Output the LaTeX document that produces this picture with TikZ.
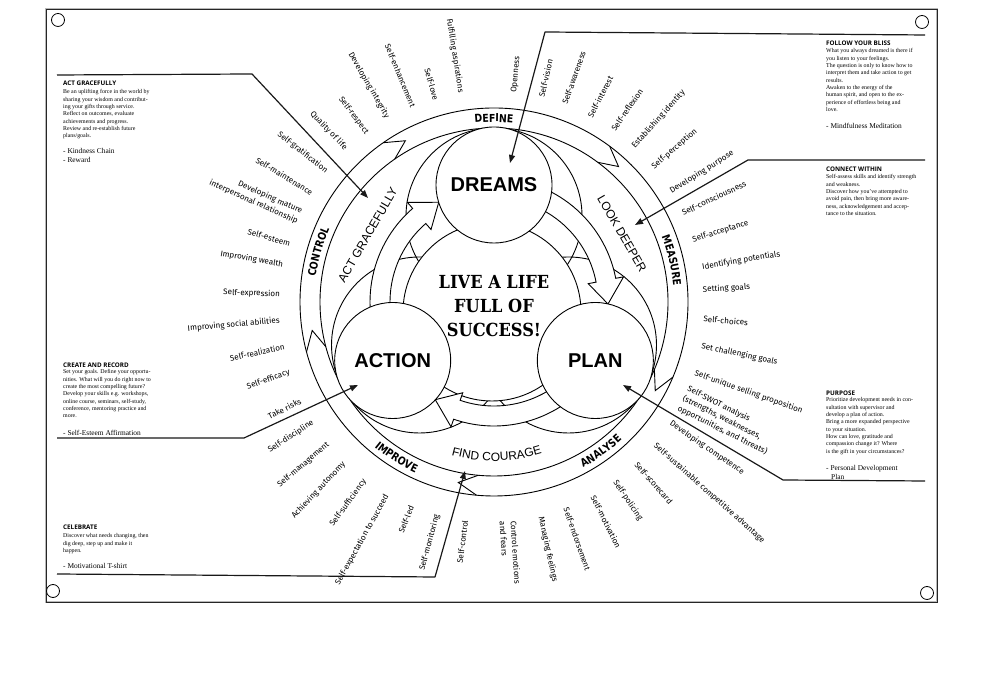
\documentclass[tikz,border=0pt]{standalone}
\usepackage{fontspec}
\setmainfont{Liberation Serif}
\newfontfamily\labfont{Fira Sans}
\newfontfamily\titfont{Open Sans}
\newfontfamily\bigsans{Liberation Sans}
\newfontfamily\ringfont[FakeStretch=0.85]{DejaVu Sans}
\newfontfamily\slabfont[FakeStretch=0.9]{DejaVu Serif}
\usetikzlibrary{arrows.meta,decorations.text}
\newcommand{\ringf}{\ringfont\bfseries\fontsize{11}{12}\selectfont}
\newcommand{\innf}{\bigsans\fontsize{12}{14}\selectfont}
\tikzset{
 lab/.style={font=\labfont\fontsize{8.1}{10}\selectfont, inner sep=0pt},
 lab2/.style={font=\labfont\fontsize{8.1}{11}\selectfont, inner sep=0pt},
 boxtitle/.style={font=\titfont\bfseries\fontsize{6.3}{7}\selectfont, inner sep=0pt, anchor=west},
 boxbody/.style={font=\fontsize{5.9}{7.35}\selectfont, inner sep=0pt, anchor=north west, align=left},
 boxbul/.style={font=\fontsize{7.4}{9}\selectfont, inner sep=0pt, anchor=north west, align=left},
 conn/.style={line width=1.2pt, black!90, line join=round, -{Triangle[length=8pt,width=6pt]}},
 ln/.style={line width=0.9pt},
 circ/.style={draw, circle, line width=0.9pt, fill=white, minimum size=116pt, inner sep=0pt},
 big/.style={font=\bigsans\bfseries\fontsize{20}{24}\selectfont},
 innerlab/.style={font=\innf, inner sep=0pt},
}
\begin{document}
\begin{tikzpicture}[x=1pt,y=1pt]
\useasboundingbox (0,0) rectangle (1000,700);
% banner
\draw[line width=2.6pt, black!28] (46,98) rectangle (937,691);
\draw[line width=0.9pt, black!85] (46,98) rectangle (937,691);
\foreach \p in {(58,680),(922,678),(53,109),(927,107)}
  \draw[line width=0.8pt, fill=white] \p circle[radius=6.5];

\begin{scope}[shift={(494,398)}]
% outer ring
\draw[ln] (0,0) circle[radius=194];
\draw[ln] (0,0) circle[radius=174];
\foreach \c in {124.8,53.4,-22.8,-95.2,-165.1}
  \draw[ln, line join=miter] (\c:194) -- (\c-6:184) -- (\c:174);
% petals and central circle
\foreach \ang in {90,-30,210} \draw[ln] (\ang:86) circle[radius=88];
\filldraw[ln, fill=white] (-2,-10) circle[radius=89];
% curved arrows
\foreach \ang/\b/\tp in {90/11/-1, -30/-109/-121, 210/131/119}
  \filldraw[ln, fill=white, line join=miter] (\ang:104) arc[start angle=\ang, end angle=\b, radius=104]
    -- (\b:96) -- (\tp:114) -- (\b:132) -- (\b:124) arc[start angle=\b, end angle=\ang, radius=124] -- cycle;
% three circles
\node[circ, big] (dreams) at (90:117) {DREAMS};
\node[circ, big] (plan) at (-30:117) {PLAN};
\node[circ, big] (action) at (210:117) {ACTION};
\node[font=\slabfont\bfseries\fontsize{18}{24}\selectfont, align=center, inner sep=0pt] (live) at (0,-4) {LIVE A LIFE\\FULL OF\\SUCCESS!};
% ring labels
\path[decorate, decoration={text along path, text align=center, text={|\ringf|DEFINE}}]
  (120:180) arc[start angle=120, end angle=60, radius=180];
\path[decorate, decoration={text along path, text align=center, text={|\ringf|CONTROL}}]
  (194:180) arc[start angle=194, end angle=134, radius=180];
\path[decorate, decoration={text along path, text align=center, text={|\ringf|MEASURE}}]
  (43.3:180) arc[start angle=43.3, end angle=-16.7, radius=180];
\path[decorate, decoration={text along path, text align=center, text={|\ringf|ANALYSE}}]
  (-84.4:188) arc[start angle=-84.4, end angle=-24.4, radius=188];
\path[decorate, decoration={text along path, text align=center, text={|\ringf|IMPROVE}}]
  (207.9:188) arc[start angle=207.9, end angle=267.9, radius=188];
\path[decorate, decoration={text along path, text align=center, text={|\innf|FIND COURAGE}}]
  (241:159) arc[start angle=241, end angle=301, radius=159];
\node[innerlab, rotate=60] (actg) at (152:143) {ACT GRACEFULLY};
\node[innerlab, rotate=-60] (lookd) at (28:145) {LOOK DEEPER};
% radial labels, right half
\foreach \ang/\rr/\tx [count=\i] in {84.5/210/Openness, 77/210/Self-vision, 70.4/210/Self-awareness,
  62.6/208/Self-interest, 55.3/209/Self-reflexion, 48/208/Establishing identity, 40.3/208/Self-perception,
  32/208/Developing purpose, 25.3/208/Self-consciousness, 17.3/208/Self-acceptance,
  9.5/211/Identifying potentials, 3.3/209/Setting goals, -4.6/210/Self-choices,
  -12/212/Set challenging goals, -19.5/213/Self-unique selling proposition,
  -34.4/214/Developing competence, -41.6/215/Self-sustainable competitive advantage,
  -48.6/215/Self-scorecard, -56/216/Self-policing, -63/218/Self-motivation,
  -70.7/218/Self-endorsement, -77.7/220/Managing feelings}
  \node[lab, anchor=west, rotate=\ang] (R\i) at (\ang:\rr) {\tx};
\node[lab2, anchor=west, rotate=-26.7, align=left] (swot) at (-27:212)
  {Self-SWOT analysis\\(strengths, weaknesses,\\opportunities, and threats)};
\node[lab2, anchor=west, rotate=-86.3, align=left] (ctrlemo) at (-86.3:219.5)
  {Control emotions\\and fears};
% radial labels, left half
\foreach \ang/\rr/\tx [count=\i] in {262.5/220/Self-control, 255/220/Self-monitoring, 248/220/Self-led,
  241/221/Self-expectation to succeed, 234/220/Self-sufficiency, 227/220/Achieving autonomy,
  220.5/218/Self-management, 213.5/217/Self-discipline, 207/217/Take risks, 199/216/Self-efficacy,
  192/214/Self-realization, 185/215/Improving social abilities, 178/214/Self-expression,
  170/214/Improving wealth, 164/212/Self-esteem, 149/212/Self-maintenance,
  142/212/Self-gratification, 134/213/Quality of life, 127/211/Self-respect,
  120/213/Developing integrity, 112.5/211/Self-enhancement, 106/210/Self-love,
  99/212/Fulfilling aspirations}
  \node[lab, anchor=east, rotate=\ang-180] (L\i) at (\ang:\rr) {\tx};
\node[lab2, anchor=east, rotate=-24, align=right] (devmat) at (156.3:212)
  {Developing mature\\interpersonal relationship};
\end{scope}

% ACT GRACEFULLY box
\node[boxtitle] (agT) at (63,617) {ACT GRACEFULLY};
\node[boxbody] (agB) at (63,610.5) {Be an uplifting force in the world by\\sharing your wisdom and contribut-\\ing your gifts through service.\\Reflect on outcomes, evaluate\\achievements and progress.\\Review and re-establish future\\plans/goals.};
\node[boxbul] (agL) at (63,552.2) {- Kindness Chain\\- Reward};
\coordinate (ag0) at (57,625);
\coordinate (ag1) at (252,626);
\coordinate (ag2) at (368,502);
\draw[conn] (ag0) -- (ag1) -- (ag2);

% CREATE AND RECORD box
\node[boxtitle] (crT) at (63,335) {CREATE AND RECORD};
\node[boxbody] (crB) at (63,330.5) {Set your goals. Define your opportu-\\nities. What will you do right now to\\create the most compelling future?\\Develop your skills e.g. workshops,\\online course, seminars, self-study,\\conference, mentoring practice and\\more.};
\node[boxbul] (crL) at (63,270.2) {- Self-Esteem Affirmation};
\coordinate (cr0) at (57,262);
\coordinate (cr1) at (244,262);
\coordinate (cr2) at (358,315);
\draw[conn] (cr0) -- (cr1) -- (cr2);

% CELEBRATE box
\node[boxtitle] (ceT) at (63,173) {CELEBRATE};
\node[boxbody] (ceB) at (63,166.5) {Discover what needs changing, then\\dig deep, step up and make it\\happen.};
\node[boxbul] (ceL) at (63,137.2) {- Motivational T-shirt};
\coordinate (ce0) at (57,126);
\coordinate (ce1) at (435,123);
\coordinate (ce2) at (465,229);
\draw[conn] (ce0) -- (ce1) -- (ce2);

% FOLLOW YOUR BLISS box
\node[boxtitle] (fbT) at (826,657) {FOLLOW YOUR BLISS};
\node[boxbody] (fbB) at (826,651.5) {What you always dreamed is there if\\you listen to your feelings.\\The question is only to know how to\\interpret them and take action to get\\results.\\Awaken to the energy of the\\human spirit, and open to the ex-\\perience of effortless being and\\love.};
\node[boxbul] (fbL) at (826,577.2) {- Mindfulness Meditation};
\coordinate (fb0) at (925,665);
\coordinate (fb1) at (545,668);
\coordinate (fb2) at (510,537);
\draw[conn] (fb0) -- (fb1) -- (fb2);

% CONNECT WITHIN box
\node[boxtitle] (cwT) at (826,531) {CONNECT WITHIN};
\node[boxbody] (cwB) at (826,525.5) {Self-assess skills and identify strength\\and weakness.\\Discover how you've attempted to\\avoid pain, then bring more aware-\\ness, acknowledgement and accep-\\tance to the situation.};
\coordinate (cw0) at (925,540);
\coordinate (cw1) at (748,540);
\coordinate (cw2) at (635,475);
\draw[conn] (cw0) -- (cw1) -- (cw2);

% PURPOSE box
\node[boxtitle] (puT) at (826,307) {PURPOSE};
\node[boxbody] (puB) at (826,302.5) {Prioritize development needs in con-\\sultation with supervisor and\\develop a plan of action.\\Bring a more expanded perspective\\to your situation.\\How can love, gratitude and\\compassion change it? Where\\is the gift in your circumstances?};
\node[boxbul] (puL) at (826,235.2) {- Personal Development\\\hspace*{5pt}Plan};
\coordinate (pu0) at (925,219);
\coordinate (pu1) at (783,220);
\coordinate (pu2) at (623,315);
\draw[conn] (pu0) -- (pu1) -- (pu2);
\end{tikzpicture}
\end{document}
